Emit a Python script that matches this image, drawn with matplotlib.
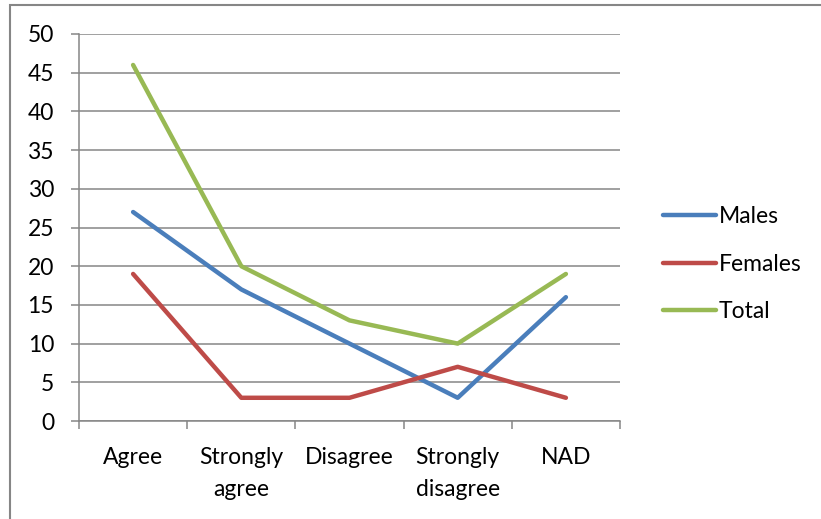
import matplotlib
matplotlib.use("Agg")
import matplotlib.pyplot as plt
from matplotlib.patches import Rectangle

categories = ["Agree", "Strongly\nagree", "Disagree", "Strongly\ndisagree", "NAD"]
males = [27, 17, 10, 3, 16]
females = [19, 3, 3, 7, 3]
total = [46, 20, 13, 10, 19]
y_ticks = [0, 5, 10, 15, 20, 25, 30, 35, 40, 45, 50]

plt.rcParams['font.family'] = ['Lato', 'DejaVu Sans']
FS = 16.5

W, H = 821, 519
fig = plt.figure(figsize=(W / 100, H / 100), dpi=100)

# chart frame
fig.patches.append(Rectangle((10 / W, -0.01), 1.0, (H - 5) / H + 0.01,
                             transform=fig.transFigure, fill=False,
                             edgecolor="#868686", linewidth=1.5))

ax = fig.add_axes([79 / W, 1 - 421 / H, 541 / W, 387 / H])

x = list(range(len(categories)))
ax.plot(x, males, color="#4a7ebb", linewidth=3.2, label="Males", solid_capstyle="round", zorder=3)
ax.plot(x, females, color="#be4b48", linewidth=3.2, label="Females", solid_capstyle="round", zorder=3)
ax.plot(x, total, color="#98b954", linewidth=3.2, label="Total", solid_capstyle="round", zorder=3)

ax.set_xlim(-0.5, len(categories) - 0.5)
ax.set_ylim(0, 50)
ax.set_yticks(y_ticks)
ax.yaxis.grid(True, color="#868686", linewidth=1.1)
ax.set_axisbelow(True)

ax.set_xticks(x)
ax.set_xticklabels(categories, fontsize=FS, linespacing=1.62, va="top")
ax.set_xticks([i - 0.5 for i in range(len(categories) + 1)], minor=True)
ax.tick_params(axis="x", which="major", length=0, pad=19)
ax.tick_params(axis="x", which="minor", length=6, width=1.1, color="#868686", direction="out")
ax.tick_params(axis="y", length=6, width=1.1, color="#868686", labelsize=FS, pad=12)

for side in ("top", "right"):
    ax.spines[side].set_visible(False)
for side in ("left", "bottom"):
    ax.spines[side].set_color("#868686")
    ax.spines[side].set_linewidth(1.1)

leg = fig.legend(loc="upper left", bbox_to_anchor=(652 / W, 1 - 195 / H),
                 frameon=False, fontsize=FS, handlelength=2.3, handletextpad=0.1,
                 labelspacing=1.15, borderpad=0)

fig.savefig("out.png", dpi=100)
